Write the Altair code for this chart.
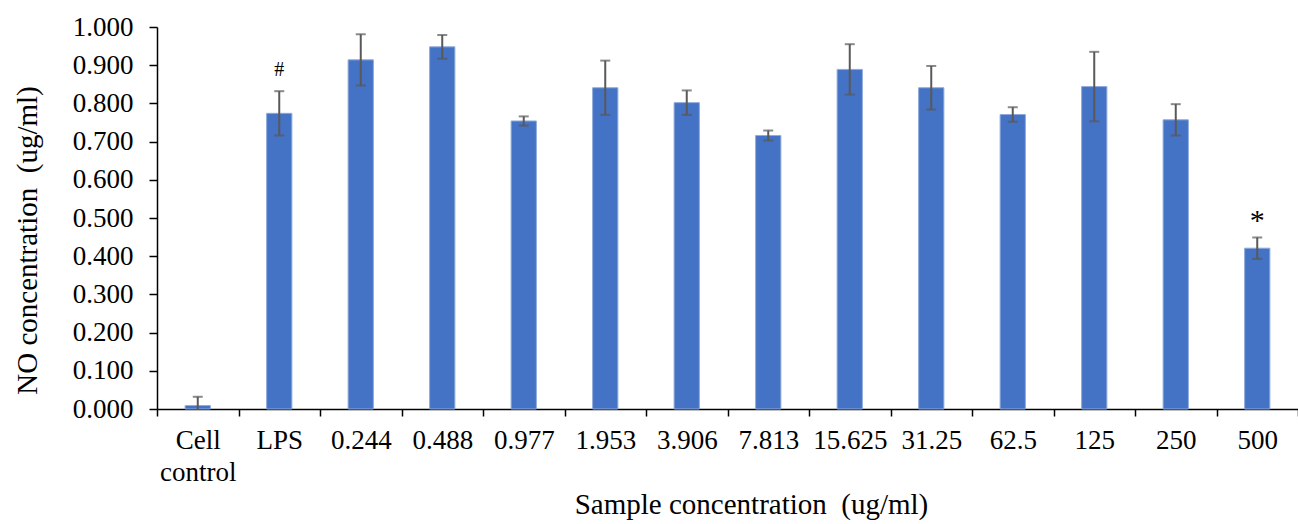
import altair as alt
import pandas as pd

groups = ["Cell control", "LPS", "0.244", "0.488", "0.977", "1.953", "3.906",
          "7.813", "15.625", "31.25", "62.5", "125", "250", "500"]
means = [0.009, 0.774, 0.914, 0.948, 0.754, 0.841, 0.802, 0.716, 0.889, 0.841,
         0.771, 0.844, 0.757, 0.421]
errors = [0.023, 0.058, 0.067, 0.031, 0.012, 0.071, 0.032, 0.013, 0.066, 0.057,
          0.019, 0.091, 0.041, 0.028]
marks = ["", "#", "", "", "", "", "", "", "", "", "", "", "", "*"]
y_ticks = [0.0, 0.1, 0.2, 0.3, 0.4, 0.5, 0.6, 0.7, 0.8, 0.9, 1.0]

df = pd.DataFrame({"group": groups, "mean": means, "err": errors, "mark": marks})

FONT = "Liberation Serif"

base = alt.Chart(df).transform_calculate(
    lo="datum.mean - datum.err", hi="datum.mean + datum.err"
)

x_axis = alt.Axis(
    title="Sample concentration\u00a0 (ug/ml)",
    labelAngle=0,
    tickBand="extent",
    labelOverlap=False,
    labelExpr="datum.value == 'Cell control' ? ['Cell', 'control'] : datum.label",
    labelFont=FONT, labelFontSize=27, labelColor="black",
    labelBaseline="top", labelPadding=11, labelLineHeight=32,
    tickSize=7, tickColor="black", tickWidth=1.5,
    domainColor="black", domainWidth=1.5,
    titleFont=FONT, titleFontSize=29, titleFontWeight="normal", titleColor="black",
    titleX=594, titleY=104, titleBaseline="alphabetic", titleAlign="center",
    titleAnchor="start",
)

y_axis = alt.Axis(
    title="NO concentration\u00a0 (ug/ml)",
    values=y_ticks, format=".3f", grid=False, labelOverlap=False,
    labelFont=FONT, labelFontSize=27, labelColor="black", labelPadding=16,
    tickSize=8, tickColor="black", tickWidth=1.5,
    domainColor="black", domainWidth=1.5,
    titleFont=FONT, titleFontSize=29, titleFontWeight="normal", titleColor="black",
    titleAngle=-90, titleX=-130, titleY=213, titleAlign="center",
    titleBaseline="middle", titleAnchor="start",
)

x_scale = alt.Scale(paddingInner=0, paddingOuter=0)
y_scale = alt.Scale(domain=[0, 1], nice=False)

xo = alt.X("group:N", sort=groups, scale=x_scale, axis=x_axis)

bars = base.mark_bar(
    color="#4472C4", stroke="#8FAADC", strokeWidth=1, width=alt.RelativeBandSize(0.31)
).encode(
    x=xo,
    y=alt.Y("mean:Q", scale=y_scale, axis=y_axis),
)

rule = base.mark_rule(color="#595959", strokeWidth=2, clip=True).encode(
    x=xo,
    y=alt.Y("lo:Q", scale=y_scale, axis=y_axis),
    y2="hi:Q",
)
cap_hi = base.mark_tick(orient="horizontal", size=10, thickness=2, color="#595959", clip=True).encode(
    x=xo,
    y=alt.Y("hi:Q", scale=y_scale, axis=y_axis),
)
cap_lo = base.mark_tick(orient="horizontal", size=10, thickness=2, color="#595959", clip=True).encode(
    x=xo,
    y=alt.Y("lo:Q", scale=y_scale, axis=y_axis),
)

hash_txt = base.transform_filter("datum.mark == '#'").mark_text(
    font=FONT, fontSize=20, color="black", dy=-21, baseline="middle"
).encode(x=xo, y=alt.Y("hi:Q", scale=y_scale, axis=y_axis), text="mark:N")

star_txt = base.transform_filter("datum.mark == '*'").mark_text(
    font=FONT, fontSize=30, color="black", dy=-16, baseline="middle"
).encode(x=xo, y=alt.Y("hi:Q", scale=y_scale, axis=y_axis), text="mark:N")

chart = alt.layer(bars, rule, cap_hi, cap_lo, hash_txt, star_txt).properties(
    width=1141,
    height=382,
    autosize=alt.AutoSizeParams(type="none"),
    padding={"left": 157, "top": 27, "right": 0, "bottom": 115},
    background="white",
).configure_view(stroke=None).configure_axis(labelOverlap=False)

chart.save("out.html", embed_options={"renderer": "svg", "actions": False})
